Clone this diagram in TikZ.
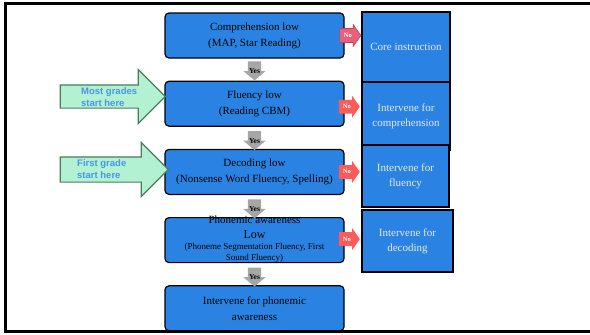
\documentclass[tikz,border=0pt]{standalone}
\usepackage{fontspec}
\setmainfont{Liberation Serif}
\newfontfamily\arialfont{Liberation Sans}
\usepackage{xcolor}
\usepackage{tikz}
\usetikzlibrary{arrows.meta, positioning, shapes.arrows, calc}

\definecolor{boxblue}{HTML}{2A83E3}
\definecolor{sidetext}{HTML}{E8E8F0}
\definecolor{nored}{HTML}{FF5A5A}
\definecolor{nopink}{HTML}{E8607A}
\definecolor{noborder}{HTML}{B8485E}
\definecolor{yesgray}{HTML}{A6A6A6}
\definecolor{startgreen}{HTML}{B2F2D2}
\definecolor{startborder}{HTML}{4E7A5E}
\definecolor{startblue}{HTML}{4A95E5}

\begin{document}
\begin{tikzpicture}[
    x=1pt, y=-1pt,
    node distance=22pt,
    box/.style={rectangle, rounded corners=4pt, draw=black, line width=1.2pt, fill=boxblue, minimum width=179pt, minimum height=45pt, align=center, font=\fontsize{11}{16}\selectfont},
    sidebox/.style={rectangle, draw=black, line width=1.2pt, fill=boxblue, text=sidetext, align=center, inner sep=0pt, font=\fontsize{11}{15}\selectfont},
    noarrow/.style={single arrow, fill=nored, text=white, font=\bfseries\fontsize{6.5}{7}\selectfont, minimum height=21pt, single arrow head extend=4pt, single arrow tip angle=110, inner xsep=1pt, inner ysep=4.5pt},
    yesarrow/.style={single arrow, shape border rotate=270, fill=yesgray, minimum height=16pt, single arrow head extend=4.5pt, single arrow tip angle=100, inner sep=6.5pt},
    yeslabel/.style={font=\bfseries\fontsize{7.5}{8}\selectfont, text=black, inner sep=0pt, yshift=-3pt},
    startarrow/.style={single arrow, draw=startborder, line width=1.2pt, fill=startgreen, minimum height=105pt, single arrow head extend=15.5pt, inner xsep=0pt, inner ysep=11pt},
    starttext/.style={anchor=west, align=left, text=startblue, inner sep=0pt, font=\arialfont\bfseries\fontsize{9.5}{12}\selectfont}
]
\useasboundingbox (0,0) rectangle (590,335);
\draw[line width=3pt] (590,3.5) -- (5,3.5) -- (5,331) -- (590,331);

% decision chain
\node[box] (c1) at (254.5,35.5) {Comprehension low\\(MAP, Star Reading)};
\node[box, below=of c1] (c2) {Fluency low\\(Reading CBM)};
\node[box, below=of c2] (c3) {Decoding low\\(Nonsense Word Fluency, Spelling)};
\node[box, below=of c3] (c4) {};
\node[align=center, inner sep=0pt, yshift=1pt] (c4text) at (c4.center) {{\fontsize{11}{12}\selectfont Phonemic awareness}\\[3pt]{\fontsize{12}{13}\selectfont Low}\\[-1pt]{\fontsize{9}{9.5}\selectfont (Phoneme Segmentation Fluency, First}\\[-1.5pt]{\fontsize{9}{9.5}\selectfont Sound Fluency)}};
\node[box, below=of c4] (c5) {Intervene for phonemic\\awareness};

% interventions
\node[sidebox, minimum width=88pt, minimum height=70pt] (r1) at (406,47) {Core instruction};
\node[sidebox, minimum width=88pt, minimum height=68pt] (r2) at (406,116) {Intervene for\\comprehension};
\node[sidebox, minimum width=87pt, minimum height=62pt] (r3) at (405.5,176) {Intervene for\\fluency};
\node[sidebox, minimum width=91pt, minimum height=62pt] (r4) at (407.5,241) {Intervene for\\decoding};

% no arrows
\node[noarrow, fill=nopink, draw=noborder, line width=0.6pt, right=-5pt of c1] (n1) {No};
\node[noarrow, right=-6pt of c2, yshift=-3pt] (n2) {No};
\node[noarrow, right=-6pt of c3] (n3) {No};
\node[noarrow, right=-6pt of c4, yshift=1pt] (n4) {No};

% yes arrows
\node[yesarrow, label={[yeslabel]center:Yes}] (y1) at ($(c1.south)!0.5!(c2.north)+(0,-1.5)$) {};
\node[yesarrow, label={[yeslabel]center:Yes}] (y2) at ($(c2.south)!0.5!(c3.north)$) {};
\node[yesarrow, label={[yeslabel]center:Yes}] (y3) at ($(c3.south)!0.5!(c4.north)$) {};
\node[yesarrow, label={[yeslabel]center:Yes}] (y4) at ($(c4.south)!0.5!(c5.north)$) {};

% entry points
\node[startarrow] (g1) at (107,96.5) {};
\node[startarrow, minimum height=108pt, inner ysep=12pt, single arrow head extend=14.5pt] (g2) at (108,169.5) {};
\node[starttext] (t1) at (81,97) {Most grades\\start here};
\node[starttext] (t2) at (77,169) {First grade\\start here};
\end{tikzpicture}
\end{document}
